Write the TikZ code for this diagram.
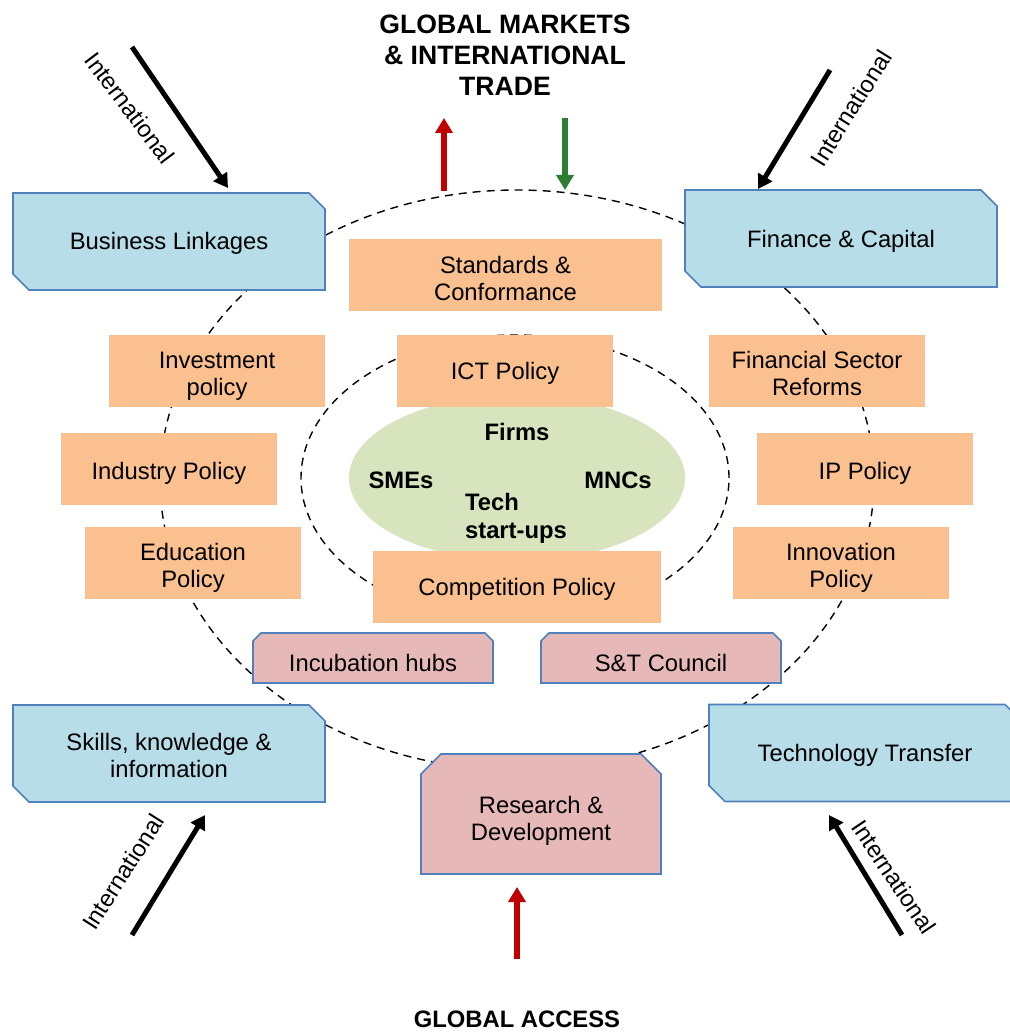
\documentclass[tikz,border=0pt]{standalone}
\usepackage{fontspec}
\setmainfont{Liberation Sans}
\usetikzlibrary{shapes.geometric,arrows.meta}
\definecolor{bluefill}{HTML}{B7DDE8}
\definecolor{blueline}{HTML}{4F81BD}
\definecolor{orangefill}{HTML}{FAC090}
\definecolor{pinkfill}{HTML}{E6B9B8}
\definecolor{greenfill}{HTML}{D7E4BD}
\definecolor{arrred}{HTML}{C00000}
\definecolor{arrgreen}{HTML}{2E7D32}
\pgfdeclarelayer{paper}
\pgfdeclarelayer{bg}
\pgfdeclarelayer{mid}
\pgfsetlayers{paper,bg,mid,main}
\newcommand\chamfTRBL[2]{%
  \draw[bluechamf] (#1.north west) -- ([xshift=-#2]#1.north east) -- ([yshift=-#2]#1.north east)
    -- (#1.south east) -- ([xshift=#2]#1.south west) -- ([yshift=#2]#1.south west) -- cycle;}
\newcommand\chamfTop[2]{%
  \draw[pinkchamf] (#1.south west) -- ([yshift=-#2]#1.north west) -- ([xshift=#2]#1.north west)
    -- ([xshift=-#2]#1.north east) -- ([yshift=-#2]#1.north east) -- (#1.south east) -- cycle;}
\begin{document}
\begin{tikzpicture}[x=0.5pt,y=-0.5pt,
  base/.style={font=\fontsize{11.9}{13.5}\selectfont, align=center, inner sep=0pt, outer sep=0pt},
  boldtxt/.style={font=\fontsize{11.9}{14}\selectfont\bfseries, inner sep=0pt},
  bluebox/.style={base, minimum width=156pt, minimum height=48.5pt},
  orangebox/.style={base, fill=orangefill, minimum width=108pt, minimum height=36pt},
  pinkbox/.style={base, minimum width=120pt, minimum height=25pt},
  bluechamf/.style={fill=bluefill, draw=blueline, line width=0.8pt},
  pinkchamf/.style={fill=pinkfill, draw=blueline, line width=0.8pt},
  ring/.style={ellipse, draw=black, line width=0.7pt, dash pattern=on 4pt off 3pt, inner sep=0pt},
  blackarrow/.style={line width=2.5pt, -{Triangle[length=7pt,width=8pt]}},
  colarrow/.style={line width=3pt, -{Triangle[length=7.5pt,width=8.5pt]}},
  intl/.style={base},
  lab/.style={base, yshift=#1},
  lab/.default=-1pt
]
\useasboundingbox (0,0) rectangle (1010,1032);
\begin{pgfonlayer}{paper}
\fill[white] (0,0) rectangle (1010,1032);
\end{pgfonlayer}

% rings
\begin{pgfonlayer}{bg}
\node[ring, minimum width=357pt, minimum height=290pt] (outer) at (517,480) {};
\node[ring, minimum width=214pt, minimum height=143pt] (inner) at (515,478) {};
\end{pgfonlayer}

% green core
\node[ellipse, fill=greenfill, inner sep=0pt, minimum width=168pt, minimum height=83pt] (core) at (517,478) {};
\node[boldtxt] (firms) at (517,432) {Firms};
\node[boldtxt] (smes) at (401,480) {SMEs};
\node[boldtxt] (mncs) at (618,480) {MNCs};
\node[boldtxt, align=left] (tech) at (516,518) {Tech\\start-ups};

% blue boxes
\node[bluebox, label={[lab=-1pt]center:Business Linkages}] (bl) at (169,241.5) {};
\node[bluebox, label={[lab=-1.5pt]center:Finance \& Capital}] (fc) at (841,238.5) {};
\node[bluebox, label={[lab=-1pt]center:{Skills, knowledge \&\\information}}] (sk) at (169,753.5) {};
\node[bluebox, label={[lab=-1pt]center:Technology Transfer}] (tt) at (865,753) {};
\begin{pgfonlayer}{mid}
\chamfTRBL{bl}{8pt}
\chamfTRBL{fc}{8pt}
\chamfTRBL{sk}{8pt}
\chamfTRBL{tt}{8pt}
\end{pgfonlayer}

% orange policy boxes
\node[orangebox, minimum width=156.5pt, label={[lab=-1.5pt]center:{Standards \&\\Conformance}}] (sc) at (505.5,275) {};
\node[orangebox, label={[lab=-2.5pt]center:{Investment\\policy}}] (inv) at (217,371) {};
\node[orangebox, label={[lab=-1pt]center:ICT Policy}] (ict) at (505,371) {};
\node[orangebox, label={[lab=-1.3pt]center:{Financial Sector\\Reforms}}] (fsr) at (817,371) {};
\node[orangebox, label={[lab=-2pt]center:Industry Policy}] (ind) at (169,469) {};
\node[orangebox, label={[lab=-2pt]center:IP Policy}] (ipp) at (865,469) {};
\node[orangebox, label={[lab=-2.5pt]center:{Education\\Policy}}] (edu) at (193,563) {};
\node[orangebox, label={[lab=-2.5pt]center:{Innovation\\Policy}}] (inn) at (841,563) {};
\node[orangebox, minimum width=144pt, label={[lab=-1pt]center:Competition Policy}] (cp) at (517,587) {};

% pink boxes
\node[pinkbox, label={[lab=-2.5pt]center:Incubation hubs}] (ih) at (373,658) {};
\node[pinkbox, label={[lab=-2.5pt]center:S\&T Council}] (st) at (661,658) {};
\node[pinkbox, minimum height=60pt, label={[lab=-3.5pt]center:{Research \&\\Development}}] (rd) at (541,814) {};
\begin{pgfonlayer}{mid}
\chamfTop{ih}{4pt}
\chamfTop{st}{4pt}
\chamfTop{rd}{10pt}
\end{pgfonlayer}

% titles
\node[font=\fontsize{13.3}{15.5}\selectfont\bfseries, align=center, inner sep=0pt] (gm) at (505,55)
  {GLOBAL MARKETS\\\& INTERNATIONAL\\TRADE};
\node[font=\fontsize{11.9}{14}\selectfont\bfseries, inner sep=0pt] (ga) at (517,1019) {GLOBAL ACCESS};

% coordinates for arrows
\coordinate (tlS) at (132,47);  \coordinate (tlE) at (228,188);
\coordinate (trS) at (830,70);  \coordinate (trE) at (758,189);
\coordinate (blS) at (132,935); \coordinate (blE) at (205,815);
\coordinate (brS) at (902,935); \coordinate (brE) at (829,815);
\coordinate (rtS) at (444,191); \coordinate (rtE) at (444,118);
\coordinate (gtS) at (565,118); \coordinate (gtE) at (565,190);
\coordinate (rbS) at (517,959); \coordinate (rbE) at (517,887);

\draw[blackarrow] (tlS) -- (tlE);
\draw[blackarrow] (trS) -- (trE);
\draw[blackarrow] (blS) -- (blE);
\draw[blackarrow] (brS) -- (brE);
\draw[colarrow, arrred] (rtS) -- (rtE);
\draw[colarrow, arrgreen] (gtS) -- (gtE);
\draw[colarrow, arrred] (rbS) -- (rbE);

% International labels
\node[intl, rotate=-53] (l1) at (130,108) {International};
\node[intl, rotate=58] (l2) at (851,108) {International};
\node[intl, rotate=57.6] (l3) at (123,872) {International};
\node[intl, rotate=-56] (l4) at (894,877) {International};
\end{tikzpicture}
\end{document}
